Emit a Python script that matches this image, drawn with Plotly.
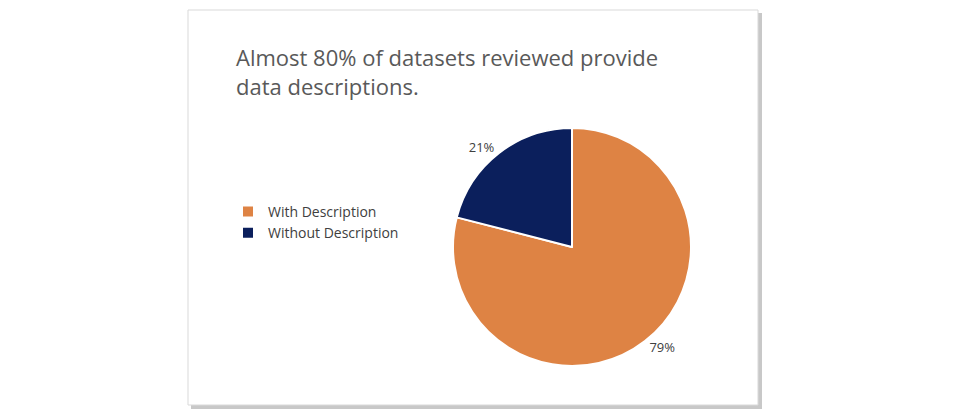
import plotly.graph_objects as go

labels = ["With Description", "Without Description"]
values = [79, 21]
colors = ["#DE8344", "#0B1F5C"]

W, H = 954, 419
O = 8  # page body offset
def X(v): return (v - O) / W
def Y(v): return 1 - (v - O) / H

fig = go.Figure(go.Pie(
    labels=labels, values=values, sort=False, direction="clockwise", rotation=0,
    marker=dict(colors=colors, line=dict(color="white", width=2)),
    textinfo="percent", textposition="outside", texttemplate="%{percent:.0%}",
    textfont=dict(size=13, color="#404040", family="Open Sans"),
    domain=dict(x=[X(453), X(691)], y=[Y(366), Y(128)]),
    showlegend=True,
))
fig.add_shape(type="rect", xref="paper", yref="paper", x0=X(191), x1=X(762), y0=Y(409), y1=Y(13),
              fillcolor="#c8c8c8", line=dict(width=0), layer="below")
fig.add_shape(type="rect", xref="paper", yref="paper", x0=X(188), x1=X(758), y0=Y(405), y1=Y(10),
              fillcolor="white", line=dict(color="#d9d9d9", width=1), layer="below")
fig.add_annotation(x=X(234), y=Y(40), xref="paper", yref="paper", xanchor="left", yanchor="top",
                   align="left", showarrow=False,
                   text="Almost 80% of datasets reviewed provide<br>data descriptions.",
                   font=dict(size=22, color="#595959", family="Open Sans"))
fig.update_layout(
    width=W, height=H, margin=dict(l=0, r=0, t=0, b=0),
    paper_bgcolor="white", plot_bgcolor="white",
    legend=dict(x=X(228), y=Y(196), xanchor="left", yanchor="top",
                font=dict(size=14, color="#404040", family="Open Sans"),
                tracegroupgap=14, itemsizing="constant", itemwidth=30),
)
fig.write_html("out.html")
